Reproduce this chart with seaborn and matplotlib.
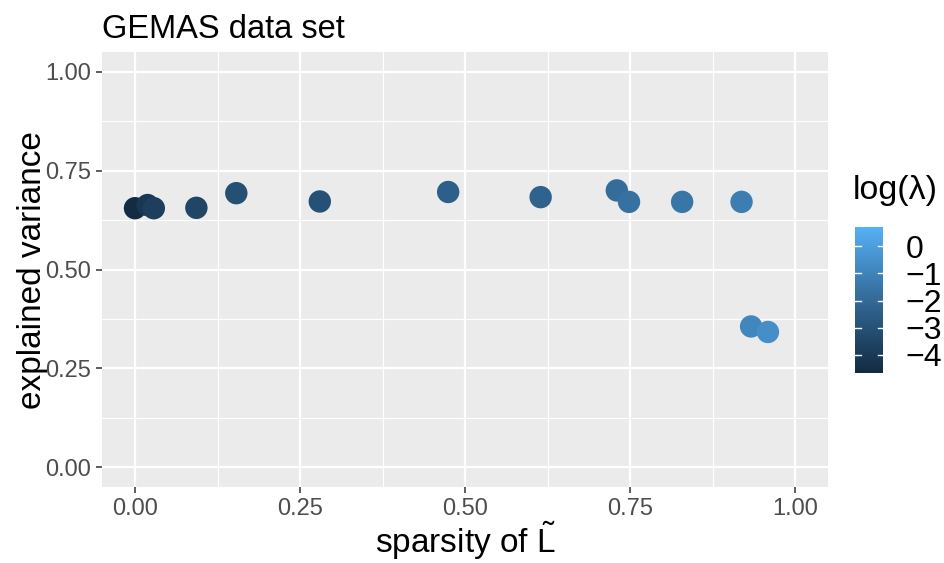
import numpy as np
import pandas as pd
import matplotlib
matplotlib.use("Agg")
import matplotlib.pyplot as plt
from matplotlib.colors import ListedColormap, Normalize
from matplotlib.cm import ScalarMappable
import seaborn as sns

# Sparsity of the loadings, explained variance and log(lambda) for each fit
sparsity = [0.000, 0.019, 0.0285, 0.093, 0.1535, 0.280, 0.4745,
            0.6146, 0.730, 0.7485, 0.829, 0.919, 0.9335, 0.959]
expl_var = [0.655, 0.663, 0.655, 0.656, 0.693, 0.672, 0.696,
            0.683, 0.700, 0.671, 0.671, 0.671, 0.356, 0.342]
log_lambda = [-4.6, -4.1, -3.8, -3.5, -3.1, -3.0, -2.4,
              -2.3, -1.9, -1.7, -1.5, -1.2, -0.9, -0.6]
lambda_range = (-4.65, 0.71)

x_ticks = [0.00, 0.25, 0.50, 0.75, 1.00]
y_ticks = [0.00, 0.25, 0.50, 0.75, 1.00]
cbar_ticks = [0, -1, -2, -3, -4]

df = pd.DataFrame({"sparsity": sparsity, "expl_var": expl_var,
                   "log_lambda": log_lambda})


# ---- sequential gradient interpolated in CIELAB (#132B43 -> #56B1F7) ----
def _srgb_to_lab(rgb):
    rgb = np.asarray(rgb, float)
    lin = np.where(rgb <= 0.04045, rgb / 12.92, ((rgb + 0.055) / 1.055) ** 2.4)
    M = np.array([[0.4124564, 0.3575761, 0.1804375],
                  [0.2126729, 0.7151522, 0.0721750],
                  [0.0193339, 0.1191920, 0.9503041]])
    xyz = lin @ M.T / np.array([0.95047, 1.0, 1.08883])
    f = np.where(xyz > 216 / 24389, np.cbrt(xyz), (24389 / 27 * xyz + 16) / 116)
    return np.stack([116 * f[..., 1] - 16, 500 * (f[..., 0] - f[..., 1]),
                     200 * (f[..., 1] - f[..., 2])], -1)


def _lab_to_srgb(lab):
    L, a, b = lab[..., 0], lab[..., 1], lab[..., 2]
    fy = (L + 16) / 116
    fx = fy + a / 500
    fz = fy - b / 200
    def finv(t):
        return np.where(t ** 3 > 216 / 24389, t ** 3, (116 * t - 16) / (24389 / 27))
    xyz = np.stack([finv(fx), finv(fy), finv(fz)], -1) * np.array([0.95047, 1.0, 1.08883])
    Minv = np.array([[3.2404542, -1.5371385, -0.4985314],
                     [-0.9692660, 1.8760108, 0.0415560],
                     [0.0556434, -0.2040259, 1.0572252]])
    lin = np.clip(xyz @ Minv.T, 0, 1)
    rgb = np.where(lin <= 0.0031308, 12.92 * lin, 1.055 * lin ** (1 / 2.4) - 0.055)
    return np.clip(rgb, 0, 1)


lo = _srgb_to_lab(matplotlib.colors.to_rgb("#132B43"))
hi = _srgb_to_lab(matplotlib.colors.to_rgb("#56B1F7"))
t = np.linspace(0, 1, 256)[:, None]
cmap = ListedColormap(_lab_to_srgb(lo + (hi - lo) * t))
norm = Normalize(*lambda_range)

# ---- figure ----
plt.rcParams["font.family"] = ["Liberation Sans", "DejaVu Sans"]
plt.rcParams["mathtext.fontset"] = "custom"
plt.rcParams["mathtext.rm"] = "Liberation Sans"
plt.rcParams["mathtext.it"] = "Liberation Sans:italic"

W, H = 944, 563
fig = plt.figure(figsize=(W / 100, H / 100), dpi=100)
ax = fig.add_axes([102 / W, (H - 487) / H, 726 / W, 435 / H])
ax.set_facecolor("#EBEBEB")
ax.set_axisbelow(True)

sns.scatterplot(data=df, x="sparsity", y="expl_var", hue="log_lambda",
                palette=cmap, hue_norm=norm, s=260, linewidth=0,
                alpha=1, legend=False, ax=ax, zorder=3)

ax.set_xlim(-0.05, 1.05)
ax.set_ylim(-0.05, 1.05)
ax.set_xticks(x_ticks)
ax.set_xticklabels([f"{v:.2f}" for v in x_ticks])
ax.set_yticks(y_ticks)
ax.set_yticklabels([f"{v:.2f}" for v in y_ticks])
ax.set_xticks([0.125, 0.375, 0.625, 0.875], minor=True)
ax.set_yticks([0.125, 0.375, 0.625, 0.875], minor=True)
ax.grid(which="major", color="white", linewidth=1.6)
ax.grid(which="minor", color="white", linewidth=0.8)
ax.tick_params(which="major", length=4, width=1.1, color="#333333",
               labelcolor="#4D4D4D", labelsize=17, pad=4)
ax.tick_params(which="minor", length=0)
for sp in ax.spines.values():
    sp.set_visible(False)

ax.set_xlabel("")
ax.set_ylabel("")
fig.text(465 / W, (H - 553) / H, r"sparsity of $\tilde{\mathrm{L}}$",
         fontsize=24, ha="center", va="baseline")
fig.text(33 / W, (H - 270) / H, "explained variance", fontsize=24,
         rotation=90, ha="center", va="center")
ax.set_title("GEMAS data set", fontsize=23.5, loc="left", pad=10)

# ---- colour bar ----
cax = fig.add_axes([855 / W, (H - 372.7) / H, 28.5 / W, 146 / H])
sm = ScalarMappable(norm=norm, cmap=cmap)
cb = fig.colorbar(sm, cax=cax, ticks=cbar_ticks)
cb.outline.set_visible(False)
cax.tick_params(length=0, labelsize=23, pad=16, labelcolor="black")
cax.set_yticklabels(["0", "\u22121", "\u22122", "\u22123", "\u22124"])
for v in cbar_ticks:
    cax.plot([0, 0.2], [v, v], color="white", lw=1, transform=cax.get_yaxis_transform())
    cax.plot([0.8, 1.0], [v, v], color="white", lw=1, transform=cax.get_yaxis_transform())
fig.text(853 / W, (H - 190) / H, "log(\u03bb)", fontsize=24.5, va="center", ha="left")

fig.savefig("out.png", dpi=100)
